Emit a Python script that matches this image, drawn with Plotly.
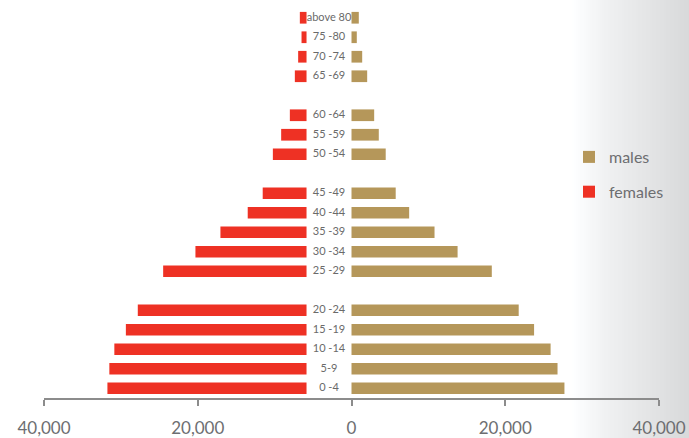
import plotly.graph_objects as go

# ---- data (bottom to top) ----
AGE_GROUPS = ["0 -4", "5-9", "10 -14", "15 -19", "20 -24",
              "25 -29", "30 -34", "35 -39", "40 -44", "45 -49",
              "50 -54", "55 -59", "60 -64",
              "65 -69", "70 -74", "75 -80", "above 80"]
BLOCK_SIZES = [5, 5, 3, 4]          # age groups are shown in these blocks

FEMALES = [25900, 25650, 25000, 23500, 21950,
           18650, 14450, 11200, 7650, 5700,
           4380, 3300, 2170,
           1520, 1090, 650, 870]
MALES = [27700, 26800, 25900, 23750, 21750,
         18250, 13800, 10800, 7500, 5750,
         4450, 3550, 2950,
         2040, 1390, 690, 950]

TICK_VALUES = [-40000, -20000, 0, 20000, 40000]
TICK_LABELS = ["40,000", "20,000", "0", "20,000", "40,000"]

# ---- style ----
FEMALE_COLOR = "#EE3124"
MALE_COLOR = "#B5975A"
TEXT_GREY = "#6D6E71"
LABEL_GAP = 5850        # room left of zero for the age labels
FONT = "Lato, 'Open Sans', sans-serif"

# build category list with spacer rows between the blocks
cats, f_vals, m_vals, labels = [], [], [], []
i = 0
for b, size in enumerate(BLOCK_SIZES):
    if b > 0:
        cats.append(" " * b)
        f_vals.append(None)
        m_vals.append(None)
        labels.append("")
    for _ in range(size):
        cats.append(AGE_GROUPS[i])
        f_vals.append(FEMALES[i])
        m_vals.append(MALES[i])
        labels.append(AGE_GROUPS[i])
        i += 1

fig = go.Figure()
fig.add_trace(go.Bar(
    y=cats, x=m_vals, orientation="h", name="males",
    marker=dict(color=MALE_COLOR, line=dict(width=0)),
    width=0.6, legendgroup="m", legendrank=1,
))
fig.add_trace(go.Bar(
    y=cats, x=[-v if v is not None else None for v in f_vals],
    base=-LABEL_GAP, orientation="h", name="females",
    marker=dict(color=FEMALE_COLOR, line=dict(width=0)),
    width=0.6, legendgroup="f", legendrank=2,
))
fig.add_trace(go.Scatter(
    y=cats, x=[-LABEL_GAP / 2] * len(cats), mode="text", text=labels,
    textposition="middle center",
    textfont=dict(family=FONT, size=11, color="#6A6A6A"),
    showlegend=False, hoverinfo="skip",
))

# soft grey gradient on the right edge (paper strips)
L, R, T, B = 44, 30, 8, 40
W = 689 - L - R
H = 438 - T - B
shapes = []
x0px, x1px = 570, 690
n = 60
for k in range(n):
    a = x0px + (x1px - x0px) * k / n
    b = x0px + (x1px - x0px) * (k + 1) / n + 0.5
    p = (a - x0px) / (x1px - x0px)
    if p < 0.3:
        v = 255 - (255 - 240) * (p / 0.3)
    else:
        v = 240 - (240 - 216) * ((p - 0.3) / 0.7)
    c = f"rgb({int(v)},{int(v)+1},{int(v)+2 if v < 253 else 255})"
    shapes.append(dict(type="rect", xref="paper", yref="paper",
                       x0=(a - L) / W, x1=(b - L) / W, y0=-0.2, y1=1.1,
                       fillcolor=c, line=dict(width=0), layer="below"))

fig.update_layout(
    width=689, height=438,
    margin=dict(l=L, r=R, t=T, b=B, autoexpand=False),
    paper_bgcolor="white", plot_bgcolor="rgba(0,0,0,0)",
    barmode="overlay",
    shapes=shapes,
    showlegend=True,
    legend=dict(x=(569 - L) / W, xanchor="left", y=(438 - B - 140) / H, yanchor="top",
                traceorder="grouped", tracegroupgap=11,
                font=dict(family=FONT, size=16, color=TEXT_GREY),
                bgcolor="rgba(0,0,0,0)"),
    xaxis=dict(range=[-40000, 40000], tickvals=TICK_VALUES, ticktext=TICK_LABELS,
               showgrid=False, zeroline=False, showline=True, linecolor="#8C8C8C",
               linewidth=2, ticks="outside", ticklen=6, tickwidth=1.5, tickcolor="#8C8C8C",
               ticklabelstandoff=8, automargin=False,
               tickfont=dict(family=FONT, size=17, color=TEXT_GREY), fixedrange=True),
    yaxis=dict(type="category", categoryorder="array", categoryarray=cats,
               range=[-0.5, len(cats) - 0.5], showticklabels=False, showgrid=False,
               zeroline=False, showline=False, ticks="", fixedrange=True,
               automargin=False),
)

fig.write_html(
    "out.html",
    config={"displayModeBar": False},
    post_script="document.body.style.margin='0';document.body.style.overflow='hidden';",
)
